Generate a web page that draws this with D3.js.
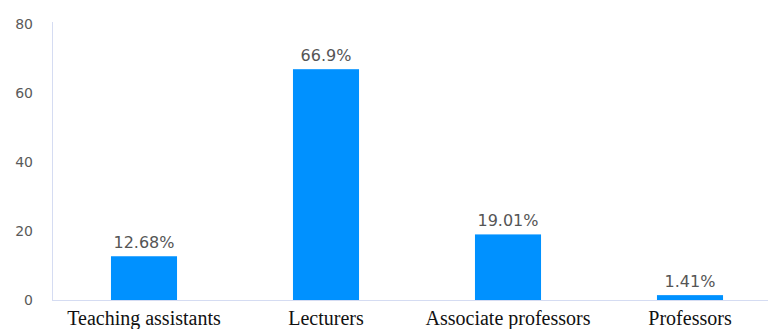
<!DOCTYPE html>
<html><head><meta charset="utf-8">
<script src="https://cdn.jsdelivr.net/npm/d3@7"></script>
<style>body{margin:0;background:#fff}</style>
</head><body>
<svg id="c" width="768" height="329"></svg>
<script>
const categories = ["Teaching assistants","Lecturers","Associate professors","Professors"];
const values = [12.68, 66.9, 19.01, 1.41];
const valueLabels = ["12.68%","66.9%","19.01%","1.41%"];
const yTicks = [0,20,40,60,80];

const svg = d3.select("#c");
const x0 = 53, x1 = 781, yBase = 300, yTop = 24;
const x = d3.scaleBand().domain(categories).range([x0, x1]).paddingInner(0.637).paddingOuter(0.3185);
const y = d3.scaleLinear().domain([0, 80]).range([yBase, yTop]);

svg.append("line").attr("x1", 52.5).attr("x2", 52.5).attr("y1", 22).attr("y2", yBase)
  .attr("stroke", "#d5dcf2").attr("stroke-width", 1);
svg.append("line").attr("x1", 52).attr("x2", 768).attr("y1", yBase + 0.5).attr("y2", yBase + 0.5)
  .attr("stroke", "#d5dcf2").attr("stroke-width", 1);

svg.append("g").selectAll("text").data(yTicks).join("text")
  .attr("x", 33).attr("y", d => y(d)).attr("dy", "0.35em")
  .attr("text-anchor", "end").attr("font-family", "DejaVu Sans, sans-serif")
  .attr("font-size", 14).attr("fill", "#5a5a5a").text(d => d);

svg.append("g").selectAll("rect").data(values).join("rect")
  .attr("x", (d, i) => x(categories[i])).attr("width", x.bandwidth())
  .attr("y", d => y(d)).attr("height", d => yBase - y(d))
  .attr("fill", "#0091ff");

svg.append("g").selectAll("text").data(values).join("text")
  .attr("x", (d, i) => x(categories[i]) + x.bandwidth() / 2)
  .attr("y", d => y(d) - 8)
  .attr("text-anchor", "middle").attr("font-family", "DejaVu Sans, sans-serif")
  .attr("font-size", 16).attr("fill", "#555").text((d, i) => valueLabels[i]);

svg.append("g").selectAll("text").data(categories).join("text")
  .attr("x", d => x(d) + x.bandwidth() / 2).attr("y", 325)
  .attr("text-anchor", "middle").attr("font-family", "Liberation Serif, Times New Roman, serif")
  .attr("font-size", 20).attr("fill", "#111").text(d => d);
</script>
</body></html>
